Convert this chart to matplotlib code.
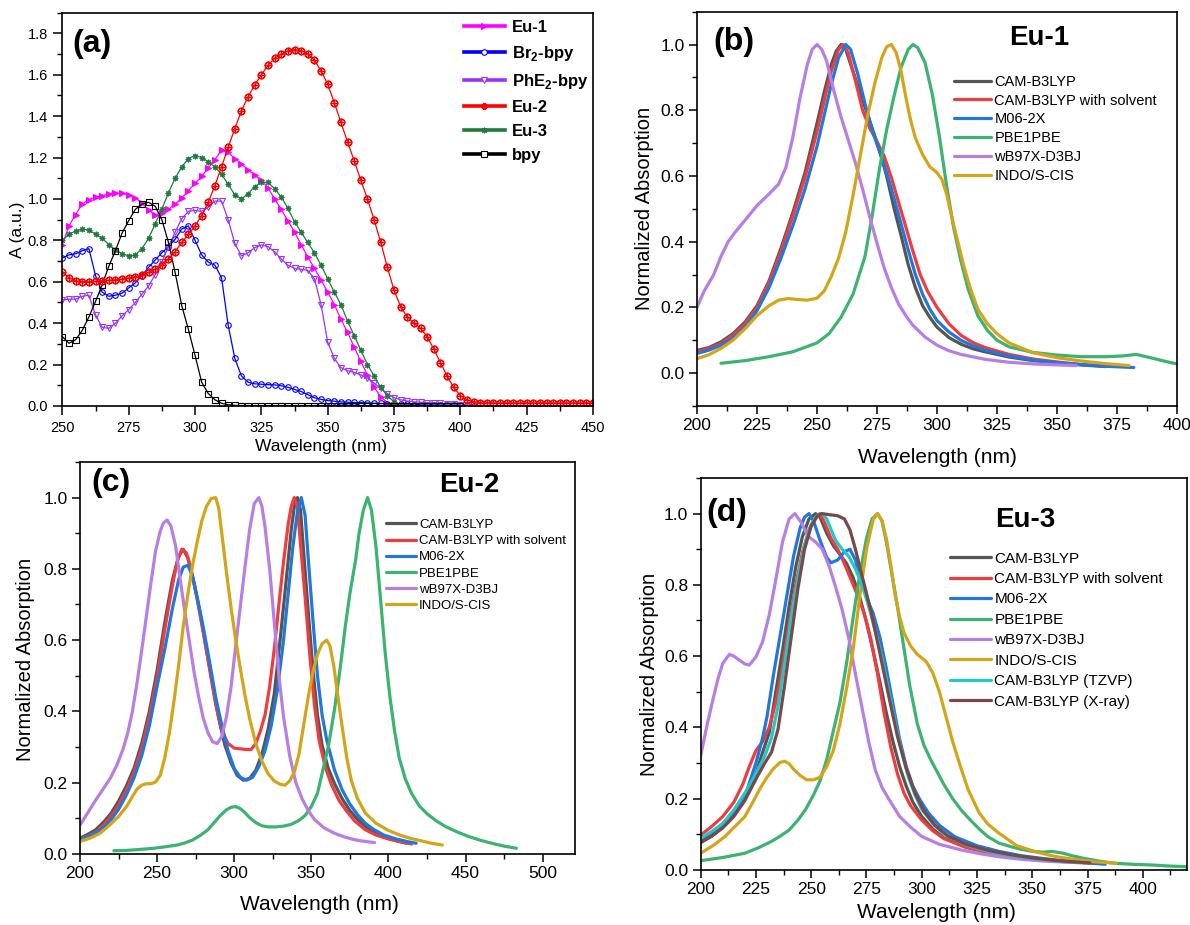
import numpy as np
import matplotlib
matplotlib.use("Agg")
import matplotlib.pyplot as plt
from matplotlib.lines import Line2D
from matplotlib.ticker import MultipleLocator

plt.rcParams['font.family'] = ['Liberation Sans', 'DejaVu Sans']
plt.rcParams['mathtext.fontset'] = 'custom'
plt.rcParams['mathtext.rm'] = 'Liberation Sans'
plt.rcParams['mathtext.bf'] = 'Liberation Sans:bold'
plt.rcParams['axes.linewidth'] = 1.2

# ---------------- panel (a): experimental spectra, 2.5 nm steps from 250 nm
wl_a = np.arange(250, 452.5, 2.5)

eu1 = [0.78, 0.87, 0.925, 0.975, 0.997, 1.008, 1.016, 1.025, 1.03, 1.027,
       1.02, 1.005, 0.98, 0.945, 0.925, 0.93, 0.95, 0.975, 1.005, 1.04,
       1.075, 1.11, 1.15, 1.19, 1.235, 1.225, 1.195, 1.17, 1.14, 1.115,
       1.09, 1.055, 1.0, 0.95, 0.895, 0.84, 0.78, 0.72, 0.665, 0.61,
       0.55, 0.49, 0.42, 0.355, 0.285, 0.215, 0.15, 0.09, 0.045, 0.015,
       0.004, 0.001, 0.0]
br2_bpy = [0.715, 0.73, 0.735, 0.75, 0.76, 0.63, 0.55, 0.53, 0.535, 0.545,
           0.57, 0.595, 0.63, 0.67, 0.705, 0.74, 0.77, 0.805, 0.855, 0.87,
           0.80, 0.73, 0.695, 0.68, 0.62, 0.39, 0.23, 0.145, 0.115, 0.107,
           0.105, 0.103, 0.102, 0.098, 0.09, 0.08, 0.07, 0.055, 0.04, 0.032,
           0.026, 0.023, 0.02, 0.018, 0.017, 0.016, 0.015, 0.013, 0.012, 0.011,
           0.01, 0.009, 0.008, 0.007, 0.006, 0.005, 0.005, 0.004, 0.004, 0.003,
           0.003, 0.003, 0.002]
phe2_bpy = [0.513, 0.516, 0.516, 0.53, 0.535, 0.44, 0.38, 0.375, 0.40, 0.435,
            0.465, 0.50, 0.54, 0.58, 0.635, 0.695, 0.77, 0.84, 0.905, 0.94,
            0.945, 0.94, 0.96, 0.99, 0.99, 0.90, 0.785, 0.725, 0.74, 0.765,
            0.778, 0.77, 0.745, 0.71, 0.68, 0.665, 0.66, 0.655, 0.615, 0.49,
            0.31, 0.23, 0.185, 0.17, 0.162, 0.15, 0.135, 0.11, 0.085, 0.06,
            0.04, 0.03, 0.024, 0.02, 0.018, 0.016, 0.015, 0.012, 0.01, 0.008,
            0.006]
eu2 = [0.645, 0.62, 0.605, 0.60, 0.60, 0.602, 0.605, 0.607, 0.61, 0.613,
       0.618, 0.625, 0.635, 0.645, 0.66, 0.68, 0.71, 0.745, 0.79, 0.83,
       0.87, 0.92, 0.985, 1.065, 1.155, 1.25, 1.34, 1.425, 1.495, 1.55,
       1.60, 1.645, 1.68, 1.70, 1.715, 1.722, 1.717, 1.70, 1.67, 1.62,
       1.555, 1.465, 1.37, 1.275, 1.185, 1.09, 1.0, 0.90, 0.79, 0.67,
       0.56, 0.48, 0.43, 0.40, 0.375, 0.335, 0.275, 0.21, 0.145, 0.09,
       0.05, 0.03, 0.02, 0.016, 0.015, 0.015, 0.015, 0.015, 0.015, 0.015,
       0.015, 0.015, 0.015, 0.015, 0.015, 0.015, 0.015, 0.015, 0.015, 0.015,
       0.015]
eu3 = [0.80, 0.83, 0.845, 0.855, 0.85, 0.83, 0.81, 0.78, 0.755, 0.735,
       0.725, 0.73, 0.76, 0.81, 0.88, 0.95, 1.03, 1.10, 1.155, 1.195,
       1.21, 1.20, 1.18, 1.155, 1.12, 1.07, 1.02, 1.0, 1.025, 1.06,
       1.08, 1.08, 1.05, 1.01, 0.955, 0.89, 0.84, 0.79, 0.74, 0.68,
       0.615, 0.55, 0.49, 0.41, 0.34, 0.27, 0.20, 0.145, 0.09, 0.05,
       0.02, 0.005, 0.0]
bpy = [0.335, 0.303, 0.32, 0.365, 0.43, 0.505, 0.585, 0.675, 0.75, 0.835,
       0.895, 0.95, 0.975, 0.984, 0.965, 0.90, 0.79, 0.645, 0.485, 0.37,
       0.245, 0.115, 0.06, 0.03, 0.013, 0.006, 0.003, 0.002, 0.002, 0.002,
       0.002, 0.002, 0.002, 0.002, 0.002, 0.002, 0.002, 0.002, 0.002, 0.002,
       0.002, 0.002, 0.002, 0.002, 0.002, 0.002, 0.002, 0.002, 0.002, 0.002,
       0.002, 0.002, 0.002, 0.002, 0.002, 0.002, 0.002, 0.002, 0.002, 0.002,
       0.002]

# ---------------- panel (b): Eu-1 computed spectra (wavelength, norm. abs.)
b_cam = [(200, 0.069), (205, 0.078), (210, 0.095), (215, 0.12), (220, 0.155),
         (225, 0.205), (230, 0.28), (235, 0.38), (240, 0.49), (245, 0.61),
         (250, 0.76), (253, 0.855), (256, 0.94), (258, 0.98), (260, 1.0),
         (262, 0.985), (264, 0.94), (267, 0.875), (270, 0.81), (273, 0.745),
         (276, 0.68), (279, 0.60), (282, 0.505), (285, 0.42), (288, 0.33),
         (291, 0.26), (294, 0.205), (297, 0.17), (300, 0.14), (305, 0.108),
         (310, 0.088), (315, 0.074), (320, 0.065), (330, 0.049), (340, 0.038),
         (350, 0.031), (360, 0.025), (370, 0.02)]
b_solv = [(200, 0.065), (205, 0.075), (210, 0.09), (215, 0.115), (220, 0.15),
          (225, 0.2), (230, 0.275), (235, 0.37), (240, 0.48), (245, 0.595),
          (250, 0.735), (253, 0.83), (256, 0.92), (259, 0.985), (261, 1.0),
          (263, 0.975), (266, 0.89), (269, 0.8), (272, 0.745), (275, 0.705),
          (278, 0.66), (281, 0.595), (284, 0.52), (287, 0.445), (290, 0.37),
          (293, 0.3), (296, 0.25), (300, 0.2), (305, 0.15), (310, 0.115),
          (315, 0.093), (320, 0.078), (330, 0.057), (340, 0.043), (350, 0.034),
          (360, 0.026), (370, 0.022), (378, 0.02)]
b_m06 = [(200, 0.06), (205, 0.07), (210, 0.085), (215, 0.107), (220, 0.14),
         (225, 0.19), (230, 0.26), (235, 0.35), (240, 0.45), (245, 0.56),
         (250, 0.69), (253, 0.785), (256, 0.88), (259, 0.96), (262, 1.0),
         (264, 0.985), (267, 0.91), (270, 0.82), (273, 0.74), (276, 0.675),
         (279, 0.61), (282, 0.535), (285, 0.455), (288, 0.375), (291, 0.3),
         (294, 0.24), (297, 0.195), (300, 0.16), (305, 0.125), (310, 0.1),
         (315, 0.083), (320, 0.07), (330, 0.052), (340, 0.04), (350, 0.032),
         (360, 0.026), (370, 0.021), (382, 0.017)]
b_pbe = [(210, 0.03), (220, 0.038), (230, 0.05), (240, 0.065), (250, 0.092),
         (255, 0.12), (260, 0.17), (265, 0.24), (270, 0.355), (273, 0.48),
         (276, 0.62), (279, 0.74), (282, 0.84), (285, 0.93), (288, 0.985),
         (290, 1.0), (292, 0.99), (295, 0.945), (298, 0.85), (301, 0.72),
         (304, 0.57), (307, 0.44), (310, 0.34), (313, 0.255), (317, 0.175),
         (321, 0.13), (325, 0.1), (330, 0.08), (340, 0.063), (350, 0.055),
         (360, 0.05), (370, 0.05), (377, 0.052), (383, 0.057), (390, 0.045),
         (395, 0.036), (400, 0.028)]
b_wb97 = [(200, 0.2), (203, 0.25), (207, 0.30), (210, 0.355), (213, 0.40),
          (216, 0.43), (220, 0.465), (225, 0.51), (230, 0.545), (234, 0.575),
          (237, 0.625), (240, 0.72), (243, 0.84), (246, 0.94), (248, 0.985),
          (250, 1.0), (252, 0.985), (254, 0.95), (257, 0.86), (260, 0.78),
          (263, 0.71), (266, 0.64), (269, 0.56), (272, 0.475), (275, 0.395),
          (278, 0.32), (281, 0.26), (284, 0.21), (287, 0.175), (290, 0.145),
          (295, 0.11), (300, 0.085), (305, 0.068), (310, 0.057), (320, 0.042),
          (330, 0.033), (340, 0.028), (350, 0.025), (358, 0.023)]
b_indo = [(200, 0.044), (205, 0.056), (210, 0.075), (215, 0.1), (220, 0.135),
          (225, 0.175), (230, 0.205), (234, 0.222), (238, 0.227), (242, 0.224),
          (246, 0.222), (250, 0.228), (253, 0.25), (256, 0.295), (259, 0.35),
          (262, 0.43), (265, 0.54), (268, 0.66), (271, 0.78), (274, 0.88),
          (277, 0.96), (279, 0.993), (281, 1.0), (283, 0.975), (285, 0.92),
          (287, 0.84), (289, 0.77), (291, 0.715), (294, 0.665), (297, 0.628),
          (300, 0.61), (302, 0.59), (304, 0.545), (306, 0.48), (308, 0.42),
          (311, 0.33), (314, 0.255), (317, 0.195), (321, 0.15), (325, 0.12),
          (330, 0.092), (340, 0.062), (350, 0.047), (360, 0.037), (370, 0.029),
          (380, 0.023)]

# ---------------- panel (c): Eu-2 computed spectra
c_cam = [(200, 0.044), (205, 0.055), (210, 0.067), (215, 0.088), (220, 0.113),
         (225, 0.148), (230, 0.19), (235, 0.24), (240, 0.31), (245, 0.40),
         (250, 0.515), (255, 0.65), (260, 0.77), (264, 0.835), (267, 0.855),
         (270, 0.83), (274, 0.76), (278, 0.675), (282, 0.575), (286, 0.475),
         (290, 0.38), (294, 0.305), (298, 0.255), (302, 0.22), (306, 0.207),
         (310, 0.212), (314, 0.235), (318, 0.28), (322, 0.35), (326, 0.45),
         (330, 0.61), (334, 0.78), (337, 0.91), (339, 0.975), (341, 1.0),
         (343, 0.965), (345, 0.85), (348, 0.68), (351, 0.52), (354, 0.39),
         (357, 0.305), (361, 0.24), (365, 0.198), (370, 0.155), (375, 0.122),
         (380, 0.097), (385, 0.078), (390, 0.063), (395, 0.052), (400, 0.044),
         (406, 0.036), (412, 0.03)]
c_solv = [(200, 0.04), (205, 0.05), (210, 0.06), (215, 0.08), (220, 0.105),
          (225, 0.137), (230, 0.178), (235, 0.228), (240, 0.295), (245, 0.385),
          (250, 0.495), (255, 0.63), (260, 0.755), (263, 0.82), (266, 0.855),
          (269, 0.845), (272, 0.8), (276, 0.715), (280, 0.62), (284, 0.52),
          (288, 0.42), (292, 0.345), (296, 0.31), (300, 0.297), (304, 0.295),
          (308, 0.293), (311, 0.293), (314, 0.31), (317, 0.345), (320, 0.39),
          (323, 0.47), (326, 0.575), (329, 0.7), (332, 0.82), (335, 0.925),
          (337, 0.975), (339, 1.0), (341, 0.975), (343, 0.87), (346, 0.72),
          (349, 0.56), (352, 0.42), (355, 0.32), (359, 0.245), (363, 0.195),
          (368, 0.15), (373, 0.12), (378, 0.093), (385, 0.068), (392, 0.053),
          (400, 0.042), (408, 0.034), (415, 0.028)]
c_m06 = [(200, 0.04), (205, 0.048), (210, 0.058), (215, 0.073), (220, 0.095),
         (225, 0.125), (230, 0.165), (235, 0.213), (240, 0.275), (245, 0.36),
         (250, 0.47), (255, 0.575), (260, 0.69), (264, 0.77), (267, 0.805),
         (270, 0.81), (273, 0.78), (276, 0.72), (280, 0.635), (284, 0.54),
         (288, 0.44), (292, 0.36), (296, 0.29), (300, 0.24), (304, 0.215),
         (308, 0.207), (312, 0.215), (316, 0.245), (320, 0.29), (324, 0.36),
         (328, 0.46), (332, 0.6), (335, 0.73), (338, 0.86), (341, 0.96),
         (343.5, 1.0), (346, 0.95), (348, 0.83), (351, 0.66), (354, 0.5),
         (357, 0.39), (360, 0.32), (365, 0.236), (370, 0.18), (375, 0.14),
         (380, 0.11), (385, 0.086), (390, 0.07), (397, 0.053), (405, 0.042),
         (412, 0.035), (418, 0.03)]
c_pbe = [(222, 0.009), (230, 0.01), (240, 0.013), (248, 0.016), (255, 0.02),
         (263, 0.025), (268, 0.031), (273, 0.039), (278, 0.052), (283, 0.068),
         (287, 0.088), (291, 0.108), (295, 0.124), (298, 0.131), (301, 0.133),
         (304, 0.127), (307, 0.116), (310, 0.102), (314, 0.088), (318, 0.079),
         (322, 0.076), (327, 0.076), (332, 0.078), (337, 0.083), (342, 0.094),
         (346, 0.108), (350, 0.133), (354, 0.17), (357, 0.226), (361, 0.3),
         (365, 0.404), (369, 0.53), (372, 0.637), (375, 0.73), (378.7, 0.824),
         (381, 0.9), (383.7, 0.964), (386.5, 1.0), (389, 0.965), (392, 0.86),
         (395, 0.71), (398, 0.56), (401, 0.44), (404, 0.345), (407, 0.27),
         (411, 0.21), (415, 0.17), (420, 0.135), (425, 0.113), (431, 0.093),
         (437, 0.077), (445, 0.061), (452, 0.049), (460, 0.038), (467, 0.03),
         (475, 0.022), (483, 0.016)]
c_wb97 = [(200, 0.081), (205, 0.115), (210, 0.15), (215, 0.182), (220, 0.215),
          (224, 0.25), (228, 0.295), (231, 0.34), (234, 0.40), (237, 0.48),
          (240, 0.57), (243, 0.665), (246, 0.76), (249, 0.85), (252, 0.905),
          (254, 0.928), (256.5, 0.937), (259, 0.92), (262, 0.865), (265, 0.77),
          (268, 0.68), (271, 0.595), (274, 0.51), (277, 0.44), (280, 0.38),
          (283, 0.34), (286, 0.315), (289, 0.31), (292, 0.33), (295, 0.385),
          (298, 0.47), (301, 0.585), (304, 0.695), (307, 0.805), (310, 0.91),
          (313, 0.983), (316, 1.0), (318, 0.975), (320, 0.918), (323, 0.8),
          (326, 0.65), (329, 0.5), (332, 0.385), (336, 0.275), (340, 0.2),
          (344, 0.155), (348, 0.122), (352, 0.097), (358, 0.074), (365, 0.058),
          (372, 0.047), (378, 0.04), (385, 0.035), (391, 0.032)]
c_indo = [(200, 0.035), (207, 0.045), (213, 0.058), (219, 0.08), (225, 0.105),
          (230, 0.132), (234, 0.161), (237, 0.182), (240, 0.193), (243, 0.197),
          (246, 0.197), (249, 0.202), (252, 0.22), (255, 0.27), (258, 0.34),
          (261, 0.43), (264, 0.53), (267, 0.64), (270, 0.73), (273, 0.81),
          (276, 0.875), (279, 0.935), (282, 0.975), (285, 0.997), (288, 1.0),
          (290, 0.97), (292.5, 0.88), (295, 0.79), (298, 0.69), (301, 0.6),
          (304, 0.52), (307, 0.445), (310, 0.38), (314, 0.31), (318, 0.26),
          (322, 0.225), (326, 0.205), (330, 0.195), (333, 0.193), (336, 0.205),
          (339, 0.23), (342, 0.28), (345, 0.36), (348, 0.44), (351, 0.51),
          (354, 0.56), (357, 0.59), (360, 0.6), (362, 0.585), (364.5, 0.53),
          (367, 0.45), (370, 0.357), (373, 0.27), (376, 0.205), (380, 0.155),
          (385, 0.115), (392, 0.086), (400, 0.066), (408, 0.052), (415, 0.043),
          (420, 0.038), (428, 0.03), (435, 0.025)]

# ---------------- panel (d): Eu-3 computed spectra
d_cam = [(200, 0.077), (205, 0.095), (210, 0.12), (215, 0.155), (220, 0.197),
         (225, 0.27), (228, 0.33), (231, 0.385), (234, 0.5), (237, 0.615),
         (240, 0.74), (243, 0.85), (246, 0.935), (249, 0.985), (252, 1.0),
         (254, 0.99), (257, 0.945), (260, 0.91), (263, 0.885), (266, 0.86),
         (269, 0.82), (272, 0.765), (275, 0.695), (278, 0.615), (281, 0.53),
         (284, 0.44), (287, 0.36), (290, 0.29), (293, 0.235), (296, 0.19),
         (300, 0.15), (305, 0.115), (310, 0.09), (320, 0.065), (330, 0.05),
         (340, 0.04), (350, 0.032), (360, 0.026), (370, 0.022), (378, 0.02)]
d_solv = [(200, 0.098), (205, 0.122), (210, 0.15), (215, 0.19), (219, 0.24),
          (222, 0.29), (225, 0.335), (228, 0.36), (231, 0.4), (234, 0.47),
          (237, 0.57), (240, 0.69), (243, 0.8), (246, 0.89), (249, 0.955),
          (252, 0.99), (254, 1.0), (256, 0.975), (259, 0.93), (262, 0.9),
          (265, 0.86), (268, 0.815), (271, 0.77), (274, 0.72), (277, 0.647),
          (280, 0.55), (283, 0.44), (286, 0.345), (289, 0.27), (292, 0.215),
          (295, 0.18), (300, 0.14), (305, 0.11), (310, 0.088), (320, 0.063),
          (330, 0.048), (340, 0.038), (350, 0.031), (360, 0.025), (370, 0.021),
          (378, 0.019)]
d_m06 = [(200, 0.084), (205, 0.105), (210, 0.13), (215, 0.165), (220, 0.206),
         (225, 0.3), (228, 0.37), (230, 0.43), (233, 0.55), (236, 0.66),
         (239, 0.77), (242, 0.88), (245, 0.96), (247, 0.99), (249, 1.0),
         (251, 0.98), (254, 0.925), (257, 0.877), (259, 0.862), (262, 0.87),
         (265, 0.893), (267.5, 0.9), (270, 0.87), (272, 0.82), (275, 0.765),
         (278, 0.72), (281, 0.655), (284, 0.565), (287, 0.465), (290, 0.367),
         (293, 0.29), (296, 0.235), (299, 0.199), (303, 0.16), (308, 0.125),
         (315, 0.093), (325, 0.068), (335, 0.052), (345, 0.04), (355, 0.032),
         (365, 0.025), (375, 0.02), (383, 0.016)]
d_pbe = [(200, 0.026), (210, 0.035), (220, 0.047), (226, 0.062), (232, 0.08),
         (236, 0.095), (240, 0.112), (244, 0.14), (247.5, 0.17), (251, 0.21),
         (254, 0.25), (257, 0.31), (260, 0.39), (263, 0.47), (266, 0.58),
         (269, 0.71), (272, 0.83), (275, 0.93), (277.5, 0.985), (280, 1.0),
         (282, 0.98), (284, 0.92), (286.5, 0.83), (289, 0.74), (291.5, 0.64),
         (294.5, 0.52), (298, 0.41), (301, 0.35), (304, 0.31), (307, 0.275),
         (310, 0.24), (314, 0.2), (318, 0.167), (322, 0.14), (326, 0.115),
         (330, 0.093), (335, 0.075), (340, 0.066), (345, 0.058), (350, 0.052),
         (355, 0.05), (359, 0.052), (364, 0.047), (368, 0.04), (373, 0.033),
         (380, 0.025), (387, 0.019), (395, 0.016), (404, 0.014), (412, 0.011),
         (420, 0.009)]
d_wb97 = [(200, 0.32), (203, 0.41), (206, 0.49), (208, 0.54), (210, 0.58),
          (213, 0.605), (215, 0.6), (217, 0.591), (220, 0.578), (222, 0.575),
          (225, 0.598), (228, 0.64), (231, 0.715), (234, 0.815), (237, 0.92),
          (240, 0.985), (242.6, 1.0), (245.5, 0.975), (248.5, 0.937), (252, 0.92),
          (255, 0.9), (258, 0.855), (261, 0.795), (264, 0.73), (267, 0.65),
          (270, 0.55), (273, 0.455), (276, 0.36), (279, 0.28), (282, 0.232),
          (285, 0.2), (290, 0.15), (295, 0.12), (300, 0.094), (308, 0.072),
          (318, 0.056), (327, 0.045), (335, 0.037), (345, 0.03), (355, 0.025),
          (365, 0.022), (374, 0.02)]
d_indo = [(200, 0.047), (206, 0.07), (211, 0.094), (216, 0.125), (220, 0.15),
          (224, 0.195), (227, 0.23), (230, 0.26), (233, 0.285), (236, 0.302),
          (238, 0.305), (240, 0.298), (242, 0.283), (245, 0.265), (248, 0.253),
          (251, 0.253), (254, 0.26), (257, 0.29), (260, 0.335), (263, 0.41),
          (266, 0.51), (269, 0.62), (272, 0.77), (275, 0.9), (278, 0.983),
          (280, 1.0), (282, 0.98), (284, 0.93), (286, 0.855), (288, 0.77),
          (290, 0.71), (292, 0.665), (295, 0.628), (298, 0.605), (302, 0.585),
          (305, 0.553), (308, 0.5), (311, 0.43), (314, 0.36), (317, 0.3),
          (321, 0.225), (326, 0.16), (330, 0.128), (335, 0.103), (343, 0.068),
          (352, 0.05), (361, 0.037), (370, 0.029), (378, 0.023), (388, 0.019)]
d_tzvp = [(200, 0.089), (205, 0.108), (210, 0.13), (215, 0.168), (220, 0.216),
          (225, 0.27), (229, 0.32), (232, 0.37), (235, 0.46), (238, 0.58),
          (241, 0.71), (244, 0.82), (247, 0.91), (250, 0.97), (253, 0.997),
          (255, 1.0), (257, 0.985), (259, 0.955), (261, 0.925), (264, 0.9),
          (267, 0.88), (270, 0.845), (273, 0.8), (276, 0.74), (279, 0.67),
          (282, 0.595), (285, 0.505), (288, 0.415), (291, 0.33), (294, 0.26),
          (297, 0.21), (300, 0.17), (305, 0.13), (310, 0.1), (320, 0.07),
          (330, 0.052), (340, 0.04), (350, 0.032), (360, 0.026), (370, 0.022)]
d_xray = [(200, 0.077), (205, 0.095), (210, 0.118), (215, 0.15), (220, 0.195),
          (225, 0.255), (229, 0.3), (232, 0.33), (235, 0.395), (238, 0.52),
          (241, 0.655), (244, 0.79), (247, 0.9), (250, 0.965), (253, 0.995),
          (255, 1.0), (258, 0.997), (262, 0.994), (265, 0.985), (267.5, 0.955),
          (270, 0.9), (273, 0.825), (277, 0.727), (281, 0.61), (285, 0.49),
          (289, 0.375), (293, 0.285), (297, 0.215), (301, 0.165), (306, 0.125),
          (312, 0.095), (320, 0.072), (330, 0.055), (340, 0.043), (350, 0.034),
          (360, 0.027), (368, 0.023), (376, 0.02)]

method_labels = ['CAM-B3LYP', 'CAM-B3LYP with solvent', 'M06-2X', 'PBE1PBE',
                 'wB97X-D3BJ', 'INDO/S-CIS', 'CAM-B3LYP (TZVP)', 'CAM-B3LYP (X-ray)']
method_colors = ['#555555', '#f03c3c', '#2277dd', '#3cb371', '#b77fe3', '#d4a419',
                 '#20c8c8', '#7a4848']

fig = plt.figure(figsize=(11.9, 9.25), dpi=100)

# ================= (a)
ax = fig.add_axes([0.0524, 0.5611, 0.4459, 0.4252])
series_a = [
    (eu1, 'Eu-1', '#ff00ff', '>', '#ff00ff'),
    (br2_bpy, r'Br$_\mathbf{2}$-bpy', '#0000ff', 'o', 'none'),
    (phe2_bpy, r'PhE$_\mathbf{2}$-bpy', '#9933ff', 'v', 'none'),
    (eu2, 'Eu-2', '#ff0000', r'$\oplus$', '#ff0000'),
    (eu3, 'Eu-3', '#1e7b3c', (8, 2, 0), '#1e7b3c'),
    (bpy, 'bpy', '#000000', 's', 'none'),
]
order = [0, 1, 2, 4, 5, 3]
for i in order:
    y, lab, col, mk, fc = series_a[i]
    if mk == r'$\oplus$':
        ms = 5.0
    elif mk == '>':
        ms = 4.6
    else:
        ms = 4.0
    ax.plot(wl_a[:len(y)], y, color=col, lw=0.9, marker=mk, ms=ms,
            mfc=fc, mec=col, mew=0.8)
handles = []
for y, lab, col, mk, fc in series_a:
    handles.append(Line2D([], [], color=col, lw=2.6, marker=mk, ms=4,
                          mfc=fc if fc != 'none' else 'white', mec=col, mew=0.8, label=lab))
ax.legend(handles=handles, loc='upper left', bbox_to_anchor=(0.757, 0.982),
          frameon=False, borderpad=0, borderaxespad=0, handlelength=2.45,
          handletextpad=0.4, labelspacing=0.54,
          prop={'weight': 'bold', 'size': 12})
ax.set_xlim(250, 450)
ax.set_ylim(0, 1.9)
ax.xaxis.set_major_locator(MultipleLocator(25))
ax.xaxis.set_minor_locator(MultipleLocator(12.5))
ax.yaxis.set_major_locator(MultipleLocator(0.2))
ax.yaxis.set_minor_locator(MultipleLocator(0.1))
ax.yaxis.set_major_formatter(plt.FormatStrFormatter('%.1f'))
ax.tick_params(which='major', length=6.5, width=1.1, labelsize=10.5, pad=4)
ax.tick_params(which='minor', length=3.5, width=1.0)
ax.set_xlabel('Wavelength (nm)', fontsize=12.5)
ax.set_ylabel('A (a.u.)', fontsize=12.5)
ax.xaxis.set_label_coords(0.487, -0.085)
ax.yaxis.set_label_coords(-0.07, 0.448)
ax.text(0.018, 0.92, '(a)', transform=ax.transAxes, fontsize=23,
        fontweight='bold', va='center', ha='left')


def spectra_panel(rect, curves, xlim, ylim, xmaj, xmin_, letter, letter_xy,
                  name, name_xy, leg_xy, leg_size, leg_hl, leg_ls, xlab_xy, ylab_xy):
    ax = fig.add_axes(rect)
    for k, pts in enumerate(curves):
        xs = [p[0] for p in pts]
        ys = [p[1] for p in pts]
        ax.plot(xs, ys, color=method_colors[k], lw=2.3, label=method_labels[k],
                solid_joinstyle='round', solid_capstyle='round')
    ax.set_xlim(*xlim)
    ax.set_ylim(*ylim)
    ax.xaxis.set_major_locator(MultipleLocator(xmaj))
    ax.xaxis.set_minor_locator(MultipleLocator(xmin_))
    ax.yaxis.set_major_locator(MultipleLocator(0.2))
    ax.yaxis.set_minor_locator(MultipleLocator(0.1))
    ax.yaxis.set_major_formatter(plt.FormatStrFormatter('%.1f'))
    ax.tick_params(which='major', length=6, width=1.1, labelsize=12.5, pad=3)
    ax.tick_params(which='minor', length=3.5, width=1.0)
    ax.set_xlabel('Wavelength (nm)', fontsize=15)
    ax.set_ylabel('Normalized Absorption', fontsize=14.5)
    ax.xaxis.set_label_coords(*xlab_xy)
    ax.yaxis.set_label_coords(*ylab_xy)
    ax.text(letter_xy[0], letter_xy[1], letter, transform=ax.transAxes,
            fontsize=23, fontweight='bold', va='center', ha='left')
    ax.text(name_xy[0], name_xy[1], name, transform=ax.transAxes,
            fontsize=20, fontweight='bold', va='center', ha='center')
    ax.legend(loc='upper left', bbox_to_anchor=leg_xy, frameon=False,
              borderpad=0, borderaxespad=0, handlelength=leg_hl,
              handletextpad=0.2, labelspacing=leg_ls, fontsize=leg_size)
    return ax


spectra_panel([0.5857, 0.5611, 0.4034, 0.4263],
              [b_cam, b_solv, b_m06, b_pbe, b_wb97, b_indo],
              (200, 400), (-0.1, 1.1), 25, 12.5,
              '(b)', (0.035, 0.923), 'Eu-1', (0.712, 0.933),
              (0.536, 0.84), 10.5, 2.55, 0.33, (0.5, -0.107), (-0.089, 0.5))

spectra_panel([0.0672, 0.0768, 0.4160, 0.4238],
              [c_cam, c_solv, c_m06, c_pbe, c_wb97, c_indo],
              (200, 521), (0, 1.1), 50, 25,
              '(c)', (0.024, 0.946), 'Eu-2', (0.786, 0.941),
              (0.618, 0.855), 9.5, 2.3, 0.3, (0.483, -0.105), (-0.091, 0.495))

spectra_panel([0.5888, 0.0595, 0.4087, 0.4238],
              [d_cam, d_solv, d_m06, d_pbe, d_wb97, d_indo, d_tzvp, d_xray],
              (200, 420), (0, 1.1), 25, 12.5,
              '(d)', (0.011, 0.911), 'Eu-3', (0.667, 0.893),
              (0.513, 0.812), 11, 2.7, 0.42, (0.485, -0.084), (-0.086, 0.5))

fig.savefig('out.png', dpi=100)
